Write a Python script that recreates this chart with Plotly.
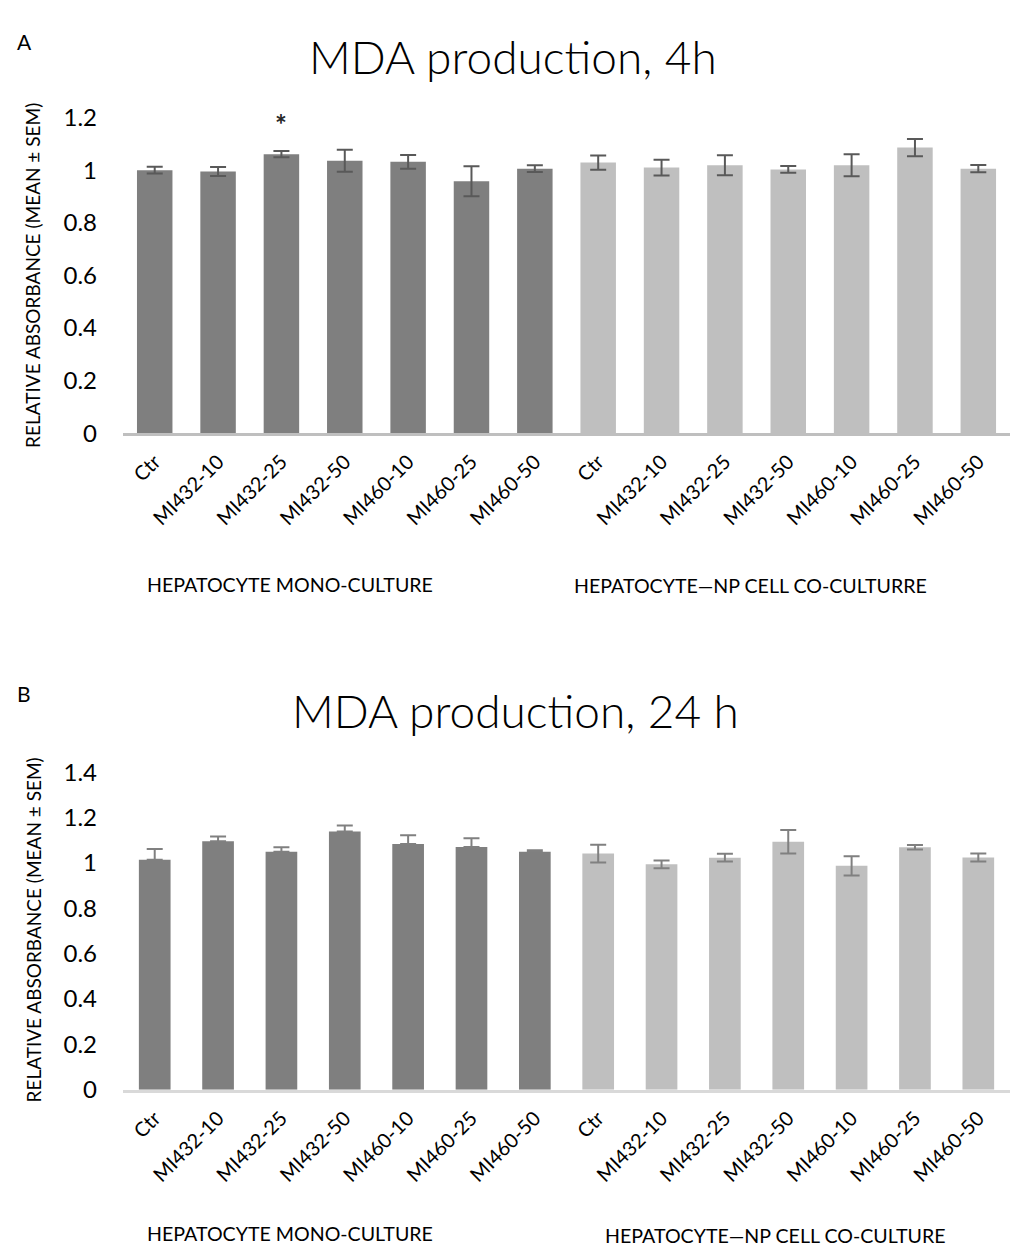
import plotly.graph_objects as go
from plotly.subplots import make_subplots

# Treatments (same order in both culture systems)
treatments = ["Ctr", "MI432-10", "MI432-25", "MI432-50", "MI460-10", "MI460-25", "MI460-50"]
tick_labels = treatments + treatments

# MDA production after 4 h (relative absorbance, mean and SEM)
mono_4h = [1.000, 0.995, 1.061, 1.036, 1.032, 0.958, 1.006]
mono_4h_sem = [0.013, 0.017, 0.012, 0.042, 0.026, 0.057, 0.013]
co_4h = [1.029, 1.010, 1.019, 1.003, 1.019, 1.086, 1.006]
co_4h_sem = [0.027, 0.030, 0.038, 0.013, 0.042, 0.033, 0.014]

# MDA production after 24 h
mono_24h = [1.014, 1.096, 1.049, 1.139, 1.083, 1.070, 1.049]
mono_24h_sem = [0.047, 0.020, 0.020, 0.026, 0.039, 0.039, 0.007]
co_24h = [1.041, 0.994, 1.023, 1.093, 0.987, 1.069, 1.024]
co_24h_sem = [0.039, 0.017, 0.017, 0.052, 0.042, 0.010, 0.018]

MONO_COLOR = "#7f7f7f"
CO_COLOR = "#bfbfbf"
FONT = "Lato"
W, H = 1011, 1260

n = len(tick_labels)
xpos = list(range(n))
colors = [MONO_COLOR] * len(treatments) + [CO_COLOR] * len(treatments)

fig = make_subplots(rows=2, cols=1)

# 4 h panel
fig.add_trace(go.Bar(
    x=xpos, y=mono_4h + co_4h, width=0.56,
    marker=dict(color=colors, line=dict(width=0)),
    error_y=dict(type="data", array=mono_4h_sem + co_4h_sem, visible=True,
                 color="#595959", thickness=2, width=8),
    showlegend=False), row=1, col=1)

# 24 h panel (mono-culture bars show only the upper error bar)
fig.add_trace(go.Bar(
    x=xpos, y=mono_24h + co_24h, width=0.5,
    marker=dict(color=colors, line=dict(width=0)),
    error_y=dict(type="data", symmetric=False,
                 array=mono_24h_sem + co_24h_sem,
                 arrayminus=[0] * len(treatments) + co_24h_sem,
                 visible=True, color="#808080", thickness=2, width=8),
    showlegend=False), row=2, col=1)

fig.update_xaxes(
    tickmode="array", tickvals=xpos, ticktext=tick_labels, tickangle=-45,
    tickfont=dict(family=FONT, size=20, color="#000000"),
    ticklabelstandoff=6,
    range=[-0.5, n - 0.5], showline=True, linewidth=3,
    showgrid=False, zeroline=False, ticks="", domain=[0.1217, 0.999],
)
fig.update_xaxes(linecolor="#bfbfbf", row=1, col=1)
fig.update_xaxes(linecolor="#d9d9d9", row=2, col=1)

fig.update_yaxes(
    showgrid=False, zeroline=False, showline=False, ticks="",
    tickfont=dict(family=FONT, size=24, color="#000000"),
    ticklabelstandoff=25,
)
fig.update_yaxes(range=[0, 1.2], tickvals=[0, 0.2, 0.4, 0.6, 0.8, 1.0, 1.2],
                 ticktext=["0", "0.2", "0.4", "0.6", "0.8", "1", "1.2"],
                 domain=[1 - 427 / H, 1 - 104 / H], row=1, col=1)
fig.update_yaxes(range=[0, 1.4], tickvals=[0, 0.2, 0.4, 0.6, 0.8, 1.0, 1.2, 1.4],
                 ticktext=["0", "0.2", "0.4", "0.6", "0.8", "1", "1.2", "1.4"],
                 domain=[1 - 1099 / H, 1 - 774 / H], row=2, col=1)

ytitle = "RELATIVE ABSORBANCE (MEAN ± SEM)"
annotations = [
    dict(text="A", x=24 / W, y=1 - 26 / H, font=dict(size=21)),
    dict(text="MDA production, 4h", x=513 / W, y=1 - 41 / H,
         font=dict(size=46, weight=300)),
    dict(text="B", x=24 / W, y=1 - 693 / H, font=dict(size=21)),
    dict(text="MDA production, 24 h", x=515 / W, y=1 - 711 / H,
         font=dict(size=46, weight=300)),
    dict(text=ytitle, x=33 / W, y=1 - 266 / H, textangle=-90, font=dict(size=19)),
    dict(text=ytitle, x=33 / W, y=1 - 936 / H, textangle=-90, font=dict(size=19)),
    dict(text="HEPATOCYTE MONO-CULTURE", x=290 / W, y=1 - 582 / H,
         font=dict(size=19.6)),
    dict(text="HEPATOCYTE—NP CELL CO-CULTURRE", x=750 / W, y=1 - 583 / H,
         font=dict(size=19.6)),
    dict(text="HEPATOCYTE MONO-CULTURE", x=290 / W, y=1 - 1246 / H,
         font=dict(size=19.6)),
    dict(text="HEPATOCYTE—NP CELL CO-CULTURE", x=775 / W, y=1 - 1248 / H,
         font=dict(size=19.6)),
]
for a in annotations:
    a.update(xref="paper", yref="paper", showarrow=False,
             xanchor="center", yanchor="middle")
    a["font"].update(family=FONT, color="#000000")
    fig.add_annotation(**a)

# Significance marker above MI432-25 (mono-culture, 4 h)
fig.add_annotation(x=2, y=mono_4h[2] + mono_4h_sem[2], xref="x", yref="y",
                   text="*", showarrow=False, yanchor="bottom", yshift=8,
                   font=dict(family=FONT, size=28, color="#262626", weight=700))

fig.update_layout(
    width=W, height=H, margin=dict(l=0, r=0, t=0, b=0),
    plot_bgcolor="white", paper_bgcolor="white",
    font=dict(family=FONT, color="#000000"),
)

fig.write_html("out.html")
